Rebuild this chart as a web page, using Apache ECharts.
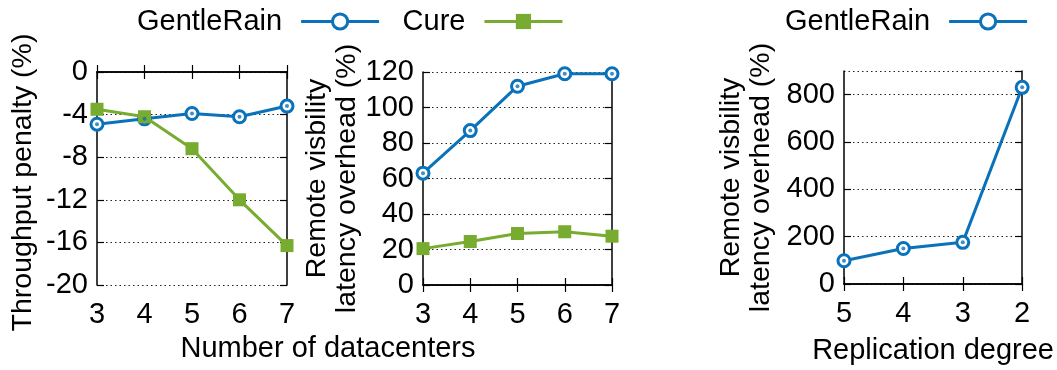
<!DOCTYPE html>
<html>
<head>
<meta charset="utf-8">
<script src="https://cdn.jsdelivr.net/npm/echarts@6/dist/echarts.min.js"></script>
<style>html,body{margin:0;padding:0;background:#fff}#c{width:1057px;height:370px}</style>
</head>
<body>
<div id="c"></div>
<script>
const categoriesDC = ['3', '4', '5', '6', '7'];
const throughputGentleRain = [-4.9, -4.4, -3.9, -4.2, -3.2];
const throughputCure = [-3.5, -4.2, -7.2, -12.0, -16.3];
const latencyGentleRain = [63, 87, 112, 119, 119];
const latencyCure = [20.5, 24.5, 29, 30, 27.5];
const replicationDegrees = ['5', '4', '3', '2'];
const replicationGentleRain = [98, 150, 176, 831];

const FONT = 'Liberation Sans';
const FS = 29;
const FSY = 28.5;
const BLUE = '#0a72ba';
const GREEN = '#77ac30';

const grids = [
  {left: 97, top: 72, width: 190, height: 213},
  {left: 423, top: 72, width: 189, height: 213},
  {left: 844, top: 71, width: 189, height: 214}
];
const lineBlack = {show: true, lineStyle: {color: '#000', width: 1.5}};
const tickIn = {show: true, inside: true, length: 7, lineStyle: {color: '#000', width: 1.2}};
const gridLine = {show: true, lineStyle: {color: '#222', width: 1, type: [1.5, 3]}};
const labelStyle = {color: '#000', fontFamily: FONT, fontSize: FS};

function xAxes(cats, gi, name) {
  return [
    {type: 'category', gridIndex: gi, data: cats, boundaryGap: false, position: 'bottom',
     axisLine: lineBlack, axisTick: tickIn, splitLine: {show: false},
     axisLabel: Object.assign({margin: 15}, labelStyle),
     name: name || '', nameLocation: 'middle', nameGap: 52,
     nameTextStyle: labelStyle},
    {type: 'category', gridIndex: gi, data: cats, boundaryGap: false, position: 'top',
     axisLine: lineBlack, axisTick: tickIn, axisLabel: {show: false}, splitLine: {show: false}}
  ];
}
function yAxes(gi, min, max, interval, name, nameGap, shiftPad) {
  return [
    {type: 'value', gridIndex: gi, min: min, max: max, interval: interval, position: 'left',
     axisLine: lineBlack, axisTick: tickIn, splitLine: gridLine,
     axisLabel: Object.assign({margin: 9, showMaxLabel: max % interval === 0}, labelStyle),
     name: name, nameLocation: 'middle', nameRotate: 90, nameGap: nameGap,
     nameTextStyle: {color: '#000', fontFamily: FONT, fontSize: FSY, lineHeight: 30,
       padding: [0, shiftPad || 0, 0, 0]}},
    {type: 'value', gridIndex: gi, min: min, max: max, interval: interval, position: 'right',
     axisLine: lineBlack, axisTick: tickIn, axisLabel: {show: false}, splitLine: {show: false}}
  ];
}
function ringSeries(name, xi, data) {
  return {name: name, type: 'line', xAxisIndex: xi, yAxisIndex: xi, data: data,
    symbol: 'circle', symbolSize: 12, showAllSymbol: true,
    lineStyle: {color: BLUE, width: 3},
    itemStyle: {color: '#fff', borderColor: BLUE, borderWidth: 3}, z: 3};
}
function dotSeries(xi, data) {
  return {name: 'dot' + xi, type: 'scatter', xAxisIndex: xi, yAxisIndex: xi, data: data,
    symbol: 'circle', symbolSize: 4, itemStyle: {color: BLUE}, silent: true, z: 5};
}
function squareSeries(name, xi, data) {
  return {name: name, type: 'line', xAxisIndex: xi, yAxisIndex: xi, data: data,
    symbol: 'rect', symbolSize: 13, lineStyle: {color: GREEN, width: 3},
    itemStyle: {color: GREEN}, z: 4};
}

const chart = echarts.init(document.getElementById('c'), null, {renderer: 'canvas'});
const legendText = {color: '#000', fontFamily: FONT, fontSize: FS, padding: [0, 14, 0, 0]};
const option = {
  animation: false,
  backgroundColor: '#fff',
  textStyle: {fontFamily: FONT},
  grid: grids,
  legend: [
    {left: 132, top: 2, align: 'right', itemWidth: 78, itemHeight: 19, itemGap: 22,
     itemStyle: {borderWidth: 3}, lineStyle: {width: 3},
     data: ['GentleRain', 'Cure'], textStyle: legendText},
    {left: 780, top: 2, align: 'right', itemWidth: 78, itemHeight: 19,
     itemStyle: {borderWidth: 3}, lineStyle: {width: 3},
     data: ['GentleRain'], textStyle: legendText}
  ],
  xAxis: [].concat(
    xAxes(categoriesDC, 0),
    xAxes(categoriesDC, 1),
    xAxes(replicationDegrees, 2, 'Replication degree')
  ),
  yAxis: [].concat(
    yAxes(0, -20, 0, 4, 'Throughput penalty (%)', 59, 8),
    yAxes(1, 0, 120, 20, 'Remote visbility\nlatency overhead (%)', 60, 0),
    yAxes(2, 0, 900, 200, 'Remote visbility\nlatency overhead (%)', 68, 0)
  ),
  graphic: [
    {type: 'text', style: {text: 'Number of datacenters', x: 328, y: 349,
      align: 'center', verticalAlign: 'middle', fill: '#000', font: FS + 'px "' + FONT + '"'}}
  ],
  series: [
    ringSeries('GentleRain', 0, throughputGentleRain),
    squareSeries('Cure', 0, throughputCure),
    dotSeries(0, throughputGentleRain),
    ringSeries('GentleRain', 2, latencyGentleRain),
    squareSeries('Cure', 2, latencyCure),
    dotSeries(2, latencyGentleRain),
    ringSeries('GentleRain', 4, replicationGentleRain),
    dotSeries(4, replicationGentleRain)
  ]
};
chart.setOption(option);
</script>
</body>
</html>
